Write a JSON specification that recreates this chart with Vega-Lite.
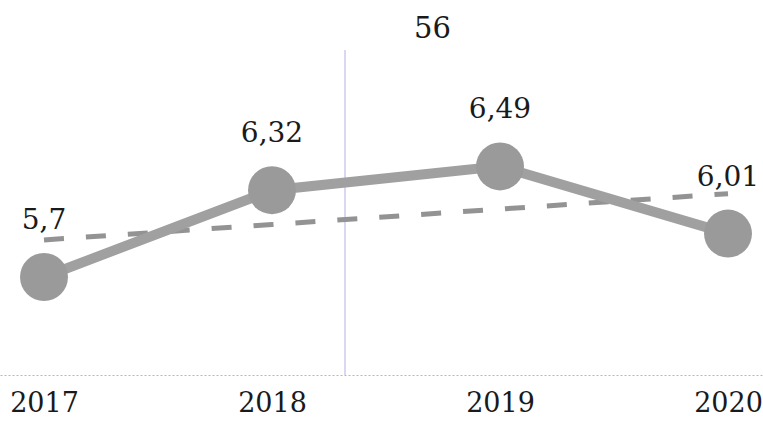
{
  "$schema": "https://vega.github.io/schema/vega-lite/v6.json",
  "width": 763,
  "height": 325,
  "autosize": "none",
  "padding": {"left": 0, "top": 50, "right": 0, "bottom": 50},
  "background": "white",
  "title": {"text": "56", "font": "DejaVu Serif", "fontSize": 29, "fontWeight": "normal", "color": "#1a1a1a", "offset": 5, "dx": 51, "anchor": "middle"},
  "config": {"view": {"stroke": null}},
  "data": {"values": [
    {"year": 2017, "value": 5.7, "label": "5,7", "trend": 5.965},
    {"year": 2018, "value": 6.32, "label": "6,32", "trend": 6.075},
    {"year": 2019, "value": 6.49, "label": "6,49", "trend": 6.185},
    {"year": 2020, "value": 6.01, "label": "6,01", "trend": 6.295}
  ]},
  "encoding": {
    "x": {"field": "year", "type": "quantitative",
      "scale": {"domain": [2016.807, 2020.1535], "nice": false, "zero": false},
      "axis": {"values": [2017, 2018, 2019, 2020], "format": "d", "title": null, "grid": false,
        "ticks": false, "domain": true, "domainColor": "#b8b8b8", "domainDash": [2, 2], "domainWidth": 1.2,
        "labelFont": "DejaVu Serif", "labelFontSize": 27, "labelColor": "#1a1a1a", "labelPadding": 15, "labelFlush": false}},
    "y": {"field": "value", "type": "quantitative",
      "scale": {"domain": [5.0, 7.3214], "nice": false, "zero": false},
      "axis": null}
  },
  "layer": [
    {"mark": {"type": "rule", "color": "#dcd6f4", "strokeWidth": 1.5},
     "encoding": {"x": {"datum": 2018.32}, "y": null}},
    {"mark": {"type": "line", "color": "#939393", "strokeWidth": 5, "strokeDash": [20, 22]},
     "encoding": {"y": {"field": "trend", "type": "quantitative"}}},
    {"mark": {"type": "line", "color": "#a0a0a0", "strokeWidth": 10}},
    {"mark": {"type": "circle", "color": "#9a9a9a", "opacity": 1, "size": 2300}},
    {"mark": {"type": "text", "font": "DejaVu Serif", "fontSize": 28, "color": "#1a1a1a", "dy": -56, "baseline": "middle"},
     "encoding": {"text": {"field": "label"}}}
  ]
}
